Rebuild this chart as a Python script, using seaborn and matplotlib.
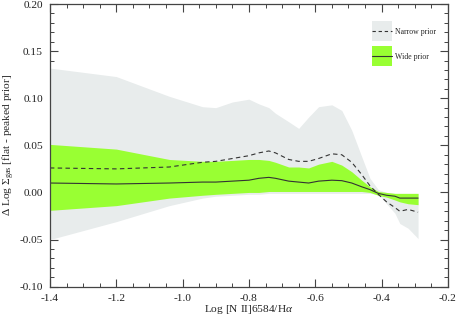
import numpy as np
import pandas as pd
import matplotlib
matplotlib.use('Agg')
import matplotlib.pyplot as plt
from matplotlib.lines import Line2D
from matplotlib.ticker import MultipleLocator
import seaborn as sns

# log [NII]/Halpha grid
log_n2ha = [-1.40, -1.20, -1.04, -0.94, -0.90, -0.85, -0.80, -0.77, -0.74, -0.72,
            -0.68, -0.65, -0.62, -0.59, -0.55, -0.52, -0.49, -0.46, -0.435, -0.41,
            -0.385, -0.36, -0.345, -0.32, -0.29]

# narrow prior: median and range
narrow_mid = [0.026, 0.025, 0.027, 0.032, 0.033, 0.036, 0.039, 0.042, 0.044, 0.042,
              0.035, 0.033, 0.033, 0.036, 0.041, 0.040, 0.032, 0.019, 0.007, -0.002,
              -0.010, -0.016, -0.020, -0.018, -0.021]
narrow_hi = [0.132, 0.123, 0.102, 0.091, 0.090, 0.096, 0.099, 0.094, 0.090, 0.084,
             0.075, 0.068, 0.080, 0.091, 0.093, 0.087, 0.066, 0.038, 0.015, 0.003,
             0.000, -0.001, -0.001, -0.001, -0.001]
narrow_lo = [-0.050, -0.031, -0.014, -0.006, -0.004, -0.003, -0.002, -0.002, -0.001, -0.001,
             -0.001, -0.001, -0.001, -0.001, -0.001, -0.001, -0.001, -0.001, -0.001, -0.002,
             -0.012, -0.022, -0.033, -0.038, -0.049]

# wide prior: median and range
wide_mid = [0.010, 0.009, 0.010, 0.011, 0.011, 0.012, 0.013, 0.015, 0.016, 0.015,
            0.012, 0.011, 0.010, 0.012, 0.013, 0.0125, 0.010, 0.006, 0.003, -0.001,
            -0.003, -0.004, -0.006, -0.006, -0.006]
wide_hi = [0.051, 0.046, 0.035, 0.033, 0.033, 0.034, 0.035, 0.035, 0.034, 0.032,
           0.027, 0.027, 0.026, 0.030, 0.033, 0.029, 0.022, 0.013, 0.006, 0.001,
           0.000, -0.001, -0.001, -0.001, -0.001]
wide_lo = [-0.019, -0.014, -0.006, -0.003, -0.002, -0.001, 0.000, 0.000, 0.001, 0.001,
           0.001, 0.001, 0.001, 0.001, 0.001, 0.001, 0.001, 0.001, 0.000, -0.003,
           -0.005, -0.008, -0.010, -0.012, -0.013]

grey = '#e8ecec'
green = '#99ff33'
dark = '#333333'

sns.set_style('ticks')
plt.rcParams['font.family'] = ['Liberation Serif', 'DejaVu Serif']
plt.rcParams['mathtext.fontset'] = 'custom'
plt.rcParams['mathtext.rm'] = 'Liberation Serif'
plt.rcParams['mathtext.it'] = 'Liberation Serif:italic'

df = pd.DataFrame({'x': log_n2ha, 'narrow': narrow_mid, 'wide': wide_mid})

fig = plt.figure(figsize=(4.58, 3.21), dpi=100)
ax = fig.add_axes([0.109, 0.107, 0.869, 0.8805])

ax.fill_between(log_n2ha, narrow_lo, narrow_hi, color=grey, lw=0)
ax.fill_between(log_n2ha, wide_lo, wide_hi, color=green, lw=0)
sns.lineplot(data=df, x='x', y='narrow', ax=ax, color=dark, lw=0.8,
             dashes=False, linestyle=(0, (4, 3)))
sns.lineplot(data=df, x='x', y='wide', ax=ax, color=dark, lw=0.8)

ax.set_xlim(-1.4, -0.2)
ax.set_ylim(-0.10, 0.20)
ax.xaxis.set_major_locator(MultipleLocator(0.2))
ax.xaxis.set_minor_locator(MultipleLocator(0.05))
ax.yaxis.set_major_locator(MultipleLocator(0.05))
ax.yaxis.set_minor_locator(MultipleLocator(0.01))
ax.xaxis.set_major_formatter(plt.FuncFormatter(lambda v, p: f'{v:.1f}'))
ax.yaxis.set_major_formatter(plt.FuncFormatter(lambda v, p: f'{v:.2f}'))
ax.tick_params(which='both', direction='in', top=True, right=True,
               color='#444444', labelsize=8.2, labelcolor='#222222')
ax.tick_params(which='major', length=6, width=0.8, pad=5)
ax.tick_params(which='minor', length=3, width=0.7)
for s in ax.spines.values():
    s.set_color('#444444')
    s.set_linewidth(0.9)

ax.set_xlabel(r'Log [N II]6584/H$\alpha$', fontsize=8.2, color='#222222', labelpad=0)
ax.set_ylabel(r'$\Delta$ Log $\Sigma_{\rm gas}$ [flat - peaked prior]', fontsize=8.2,
              color='#222222', labelpad=1.5)

# legend: square colour swatch with the median line drawn through it
box = dict(marker='s', markersize=14, markeredgewidth=0, linestyle='')
h1 = (Line2D([], [], markerfacecolor=grey, **box),
      Line2D([], [], color=dark, lw=0.8, linestyle=(0, (3, 2.5))))
h2 = (Line2D([], [], markerfacecolor=green, **box),
      Line2D([], [], color=dark, lw=0.8))
ax.legend([h1, h2], ['Narrow prior', 'Wide prior'], loc='upper left',
          bbox_to_anchor=(371.7 / 458, 1 - 27.5 / 321), bbox_transform=fig.transFigure,
          frameon=False, fontsize=5.6, handlelength=2.6, numpoints=1,
          handletextpad=0.4, labelspacing=2.2, borderpad=0, borderaxespad=0)

fig.savefig('out.png', dpi=100)
